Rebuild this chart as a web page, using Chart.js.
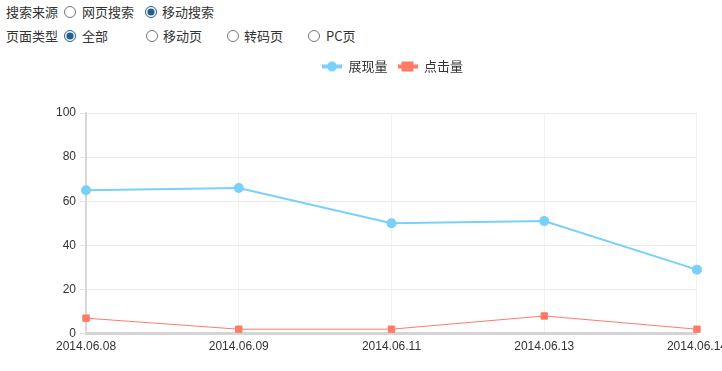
<!DOCTYPE html>
<html>
<head>
<meta charset="utf-8">
<script src="https://cdn.jsdelivr.net/npm/chart.js@4"></script>
<style>
  html, body { margin: 0; padding: 0; width: 722px; height: 371px; overflow: hidden; background: #fff; }
  body { position: relative; font-family: "Noto Sans CJK SC", "Noto Sans", sans-serif; font-size: 13px; color: #333; }
  .row { position: absolute; left: 0; height: 20px; }
  .row span, .row label { position: absolute; white-space: nowrap; line-height: 20px; }
  .row input { position: absolute; margin: 0; top: 4px; width: 12px; height: 12px; accent-color: #1f5f94; }
  .chart-container { position: absolute; left: 0; top: 50px; width: 733px; height: 321px; }
</style>
</head>
<body>
<div class="row" style="top:2px">
  <span style="left:6px">搜索来源</span>
  <input type="radio" name="src" style="left:64px"><label style="left:82px">网页搜索</label>
  <input type="radio" name="src" checked style="left:145px"><label style="left:162px">移动搜索</label>
</div>
<div class="row" style="top:26px">
  <span style="left:6px">页面类型</span>
  <input type="radio" name="pt" checked style="left:64px"><label style="left:82px">全部</label>
  <input type="radio" name="pt" style="left:146px"><label style="left:163px">移动页</label>
  <input type="radio" name="pt" style="left:227px"><label style="left:244px">转码页</label>
  <input type="radio" name="pt" style="left:308px"><label style="left:326px">PC页</label>
</div>
<div class="chart-container">
  <canvas id="chart"></canvas>
</div>
<script>
const dates = ['2014.06.08', '2014.06.09', '2014.06.11', '2014.06.13', '2014.06.14'];
const impressions = [65, 66, 50, 51, 29];
const clicks = [7, 2, 2, 8, 2];
const seriesNames = ['展现量', '点击量'];
const yTicks = [0, 20, 40, 60, 80, 100];

const blue = '#79d0f9';
const red = '#ff7b66';

// legend icon: short line with the point marker on top
function legendIcon(color, shape) {
  const c = document.createElement('canvas');
  c.width = 20; c.height = 12;
  const g = c.getContext('2d');
  g.strokeStyle = color;
  g.lineWidth = 4;
  g.beginPath(); g.moveTo(0, 6); g.lineTo(20, 6); g.stroke();
  g.fillStyle = color;
  if (shape === 'circle') {
    g.beginPath(); g.arc(10, 6, 5, 0, Math.PI * 2); g.fill();
  } else {
    g.fillRect(4, 1, 12, 10);
  }
  return c;
}
const icons = [legendIcon(blue, 'circle'), legendIcon(red, 'rect')];

// push the plot down below the legend
const legendGap = {
  id: 'legendGap',
  beforeInit(chart) {
    const fit = chart.legend.fit;
    chart.legend.fit = function () {
      fit.bind(chart.legend)();
      this.height += 30;
    };
  },
};

const ctx = document.getElementById('chart').getContext('2d');
new Chart(ctx, {
  type: 'line',
  data: {
    labels: dates,
    datasets: [
      {
        label: seriesNames[0],
        data: impressions,
        borderColor: blue,
        backgroundColor: blue,
        borderWidth: 2,
        pointRadius: 4,
        pointStyle: 'circle',
        tension: 0,
      },
      {
        label: seriesNames[1],
        data: clicks,
        borderColor: red,
        backgroundColor: red,
        borderWidth: 1,
        pointRadius: 4.5,
        pointStyle: 'rect',
        tension: 0,
      },
    ],
  },
  options: {
    responsive: true,
    maintainAspectRatio: false,
    animation: false,
    layout: { padding: { left: 52, top: 0, bottom: 11 } },
    scales: {
      x: {
        offset: false,
        grid: { color: '#f1f1f1', drawTicks: false },
        border: { color: '#d4d4d4', width: 3 },
        ticks: {
          color: '#333',
          font: { family: 'Liberation Sans, Arial', size: 12 },
          maxRotation: 0,
          autoSkip: false,
          padding: 6,
        },
      },
      y: {
        min: 0,
        max: 100,
        afterBuildTicks: axis => { axis.ticks = yTicks.map(v => ({ value: v })); },
        grid: { color: '#ebebeb', tickLength: 6, tickColor: '#e0e0e0' },
        border: { color: '#d8d8d8', width: 2 },
        ticks: {
          color: '#333',
          font: { family: 'Liberation Sans, Arial', size: 12 },
          padding: 4,
        },
      },
    },
    plugins: {
      legend: {
        position: 'top',
        labels: {
          usePointStyle: true,
          pointStyleWidth: 20,
          boxHeight: 12,
          color: '#333',
          font: { family: 'Noto Sans CJK SC', size: 13 },
          padding: 10,
          generateLabels: chart => chart.data.datasets.map((ds, i) => ({
            text: ds.label,
            pointStyle: icons[i],
            fillStyle: ds.borderColor,
            strokeStyle: ds.borderColor,
            lineWidth: 0,
            datasetIndex: i,
            fontColor: '#333',
          })),
        },
      },
      tooltip: { enabled: false },
    },
  },
  plugins: [legendGap],
});
</script>
</body>
</html>
